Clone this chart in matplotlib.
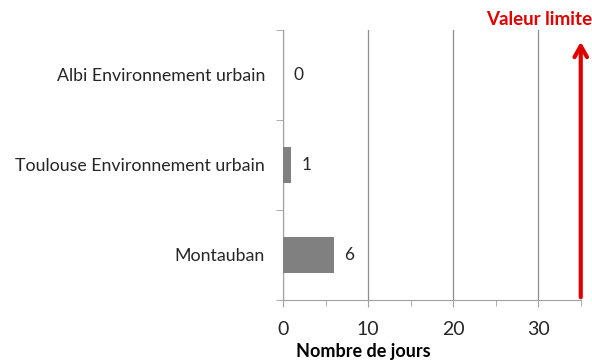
import matplotlib.pyplot as plt
from matplotlib.ticker import MultipleLocator

stations = ["Montauban", "Toulouse Environnement urbain", "Albi Environnement urbain"]
nb_jours = [6, 1, 0]
valeur_limite = 35
x_ticks = [0, 10, 20, 30]

plt.rcParams["font.family"] = ["Lato", "DejaVu Sans"]

fig = plt.figure(figsize=(5.92, 3.6), dpi=100)
ax = fig.add_axes([0.478, 0.1667, 0.503, 0.75])

pos = list(range(len(stations)))
ax.barh(pos, nb_jours, height=0.4, color="#808080", zorder=3)
for p, v in zip(pos, nb_jours):
    ax.text(v + 1.2, p, str(v), va="center", ha="left", fontsize=12.5, color="#262626")

ax.set_xlim(0, valeur_limite)
ax.set_ylim(-0.5, len(stations) - 0.5)
ax.set_xticks(x_ticks)
ax.xaxis.set_minor_locator(MultipleLocator(5))
ax.tick_params(axis="x", which="major", labelsize=14, length=5, color="#a0a0a0",
               labelcolor="#262626", pad=10)
ax.tick_params(axis="x", which="minor", length=4, color="#a0a0a0")

# categories labelled at centres, ticks on boundaries
ax.set_yticks(pos)
ax.set_yticklabels(stations, fontsize=12.8, color="#262626")
ax.set_yticks([-0.5, 0.5, 1.5, 2.5], minor=True)
ax.tick_params(axis="y", which="major", length=0, pad=13)
ax.tick_params(axis="y", which="minor", length=5, color="#a0a0a0")

ax.grid(axis="x", color="#8c8c8c", linewidth=0.9, zorder=0)
for side in ["top", "right"]:
    ax.spines[side].set_visible(False)
for side in ["left", "bottom"]:
    ax.spines[side].set_color("#a0a0a0")

ax.set_xlabel("Nombre de jours", fontsize=13, fontweight="bold")
ax.xaxis.set_label_coords(0.27, -0.158)

ax.annotate("", xy=(valeur_limite, 2.4), xytext=(valeur_limite, -0.5),
            arrowprops=dict(arrowstyle="->,head_length=0.8,head_width=0.45",
                            color="#e00000", lw=3),
            annotation_clip=False, zorder=4)
ax.text(valeur_limite - 4.9, 2.52, "Valeur limite", color="#e00000", fontsize=13.5,
        fontweight="bold", ha="center", va="bottom", clip_on=False)

fig.savefig("out.png", dpi=100)
